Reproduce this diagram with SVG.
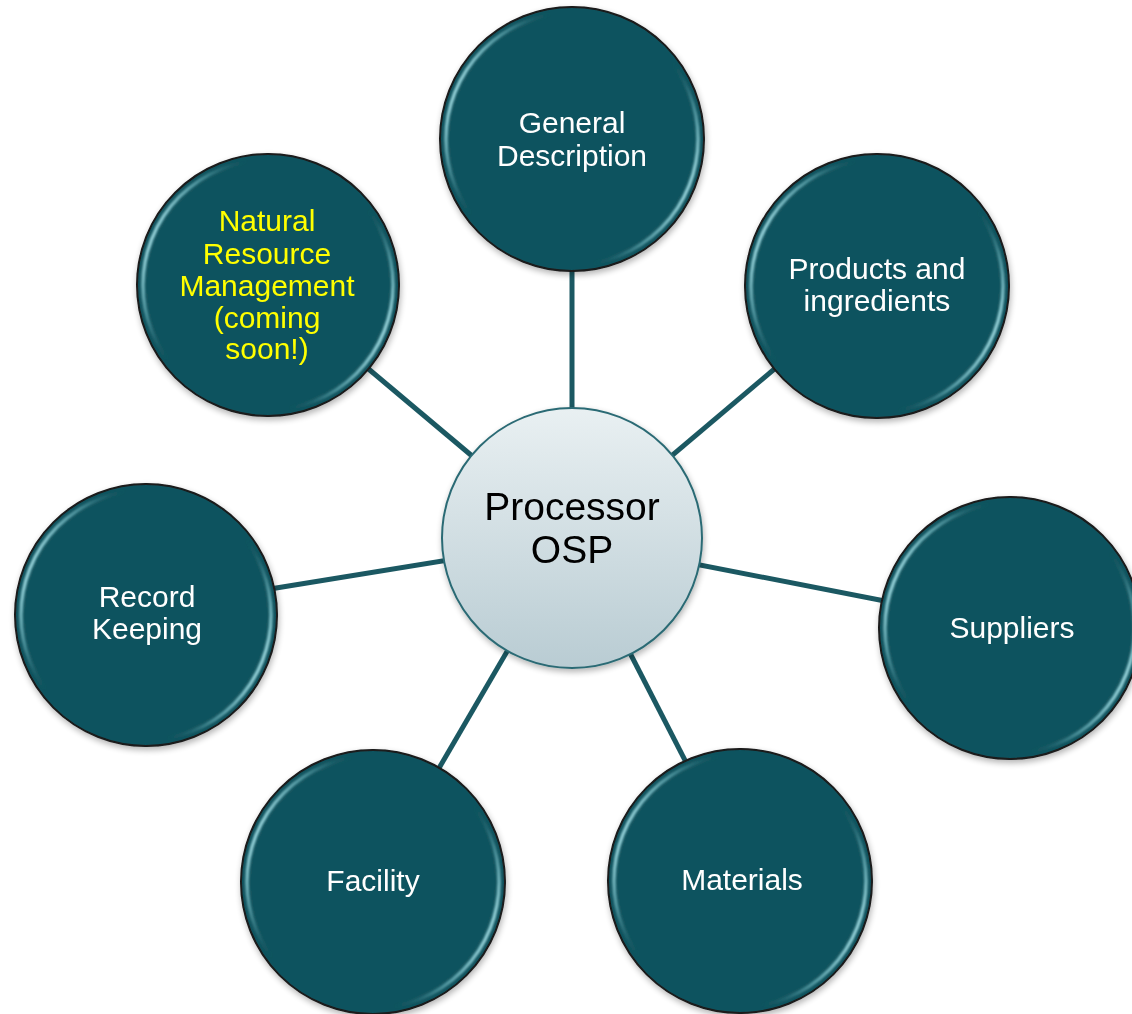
<svg xmlns="http://www.w3.org/2000/svg" width="1132" height="1014" viewBox="0 0 1132 1014">
<defs>
<linearGradient id="hl" x1="0" y1="0.3" x2="1" y2="0.7">
<stop offset="0" stop-color="#b8f0f6" stop-opacity="1"/>
<stop offset="0.12" stop-color="#6fb7c0" stop-opacity="0.6"/>
<stop offset="0.26" stop-color="#13555f" stop-opacity="0"/>
<stop offset="0.74" stop-color="#13555f" stop-opacity="0"/>
<stop offset="0.88" stop-color="#6fb7c0" stop-opacity="0.6"/>
<stop offset="1" stop-color="#b8f0f6" stop-opacity="1"/>
</linearGradient>
<linearGradient id="cg" x1="0" y1="0" x2="0" y2="1">
<stop offset="0" stop-color="#e9f0f2"/>
<stop offset="1" stop-color="#b9ccd3"/>
</linearGradient>
<filter id="soft" x="-10%" y="-10%" width="120%" height="120%">
<feGaussianBlur stdDeviation="1.1"/>
</filter>
<filter id="sh" x="-10%" y="-10%" width="125%" height="125%">
<feGaussianBlur in="SourceAlpha" stdDeviation="3"/>
<feOffset dx="1" dy="3"/>
<feComponentTransfer><feFuncA type="linear" slope="0.3"/></feComponentTransfer>
<feMerge><feMergeNode/><feMergeNode in="SourceGraphic"/></feMerge>
</filter>
</defs>
<style>
.outer{fill:#11535e;stroke:#1a1a1a;stroke-width:2}
.ring{fill:none;stroke:url(#hl);stroke-width:3.5}
.lbl{font-family:"Liberation Sans",Arial,sans-serif;font-size:30px;fill:#ffffff;text-anchor:middle}
.yl{fill:#ffff00}
.conn{stroke:#1b5862;stroke-width:5;fill:none}
</style>
<rect width="1132" height="1014" fill="#ffffff"/>
<g id="connectors">
<line class="conn" x1="572" y1="540" x2="572" y2="265"/>
<line class="conn" x1="572" y1="540" x2="785" y2="360"/>
<line class="conn" x1="572" y1="540" x2="895" y2="603"/>
<line class="conn" x1="572" y1="540" x2="690" y2="770"/>
<line class="conn" x1="572" y1="540" x2="435" y2="775"/>
<line class="conn" x1="572" y1="540" x2="270" y2="589"/>
<line class="conn" x1="572" y1="540" x2="365" y2="366"/>
</g>
<g id="center" filter="url(#sh)">
<circle cx="572" cy="538" r="130" fill="url(#cg)" stroke="#2c6b74" stroke-width="2"/>
<text x="572" y="520" font-family="'Liberation Sans',Arial,sans-serif" font-size="39" fill="#000000" text-anchor="middle">Processor</text>
<text x="572" y="563" font-family="'Liberation Sans',Arial,sans-serif" font-size="39" fill="#000000" text-anchor="middle">OSP</text>
</g>
<g id="general-description" filter="url(#sh)">
<circle class="outer" cx="572" cy="139" r="132"/>
<circle class="ring" cx="572" cy="139" r="126" filter="url(#soft)"/>
<text class="lbl" x="572" y="133">General</text>
<text class="lbl" x="572" y="166">Description</text>
</g>
<g id="products" filter="url(#sh)">
<circle class="outer" cx="877" cy="286" r="132"/>
<circle class="ring" cx="877" cy="286" r="126" filter="url(#soft)"/>
<text class="lbl" x="877" y="279">Products and</text>
<text class="lbl" x="877" y="311">ingredients</text>
</g>
<g id="suppliers" filter="url(#sh)">
<circle class="outer" cx="1010" cy="628" r="131"/>
<circle class="ring" cx="1010" cy="628" r="125" filter="url(#soft)"/>
<text class="lbl" x="1012" y="638">Suppliers</text>
</g>
<g id="materials" filter="url(#sh)">
<circle class="outer" cx="740" cy="881" r="132"/>
<circle class="ring" cx="740" cy="881" r="126" filter="url(#soft)"/>
<text class="lbl" x="742" y="890">Materials</text>
</g>
<g id="facility" filter="url(#sh)">
<circle class="outer" cx="373" cy="882" r="132"/>
<circle class="ring" cx="373" cy="882" r="126" filter="url(#soft)"/>
<text class="lbl" x="373" y="891">Facility</text>
</g>
<g id="record-keeping" filter="url(#sh)">
<circle class="outer" cx="146" cy="615" r="131"/>
<circle class="ring" cx="146" cy="615" r="125" filter="url(#soft)"/>
<text class="lbl" x="147" y="607">Record</text>
<text class="lbl" x="147" y="639">Keeping</text>
</g>
<g id="natural-resource-management" filter="url(#sh)">
<circle class="outer" cx="268" cy="285" r="131"/>
<circle class="ring" cx="268" cy="285" r="125" filter="url(#soft)"/>
<text class="lbl yl" x="267" y="231">Natural</text>
<text class="lbl yl" x="267" y="264">Resource</text>
<text class="lbl yl" x="267" y="296">Management</text>
<text class="lbl yl" x="267" y="328">(coming</text>
<text class="lbl yl" x="267" y="359">soon!)</text>
</g>
</svg>
